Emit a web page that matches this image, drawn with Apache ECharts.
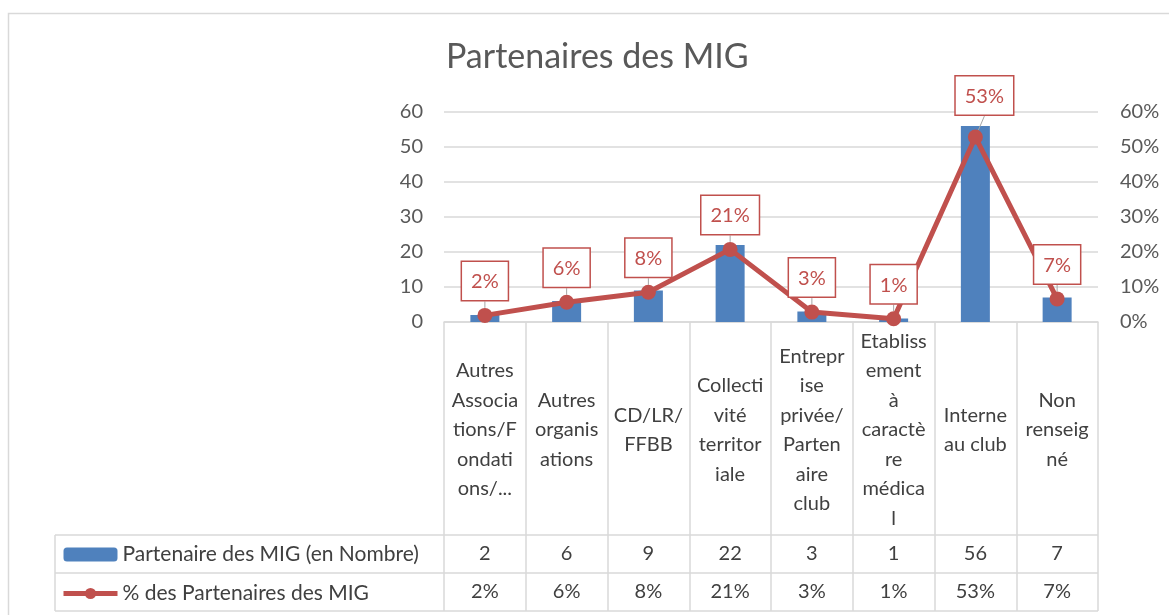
<!DOCTYPE html>
<html>
<head>
<meta charset="utf-8">
<script src="https://cdn.jsdelivr.net/npm/echarts@6/dist/echarts.min.js"></script>
<style>
html,body{margin:0;padding:0;background:#fff;}
#chart{width:1169px;height:615px;}
</style>
</head>
<body>
<div id="chart"></div>
<script>
// ---- Data ----
const title = 'Partenaires des MIG';
const categories = [
  'Autres\nAssocia\ntions/F\nondati\nons/...',
  'Autres\norganis\nations',
  'CD/LR/\nFFBB',
  'Collecti\nvité\nterritor\niale',
  'Entrepr\nise\nprivée/\nParten\naire\nclub',
  'Etabliss\nement\nà\ncaractè\nre\nmédica\nl',
  'Interne\nau club',
  'Non\nrenseig\nné'
];
const countName = 'Partenaire des MIG (en Nombre)';
const pctName = '% des Partenaires des MIG';
const counts = [2, 6, 9, 22, 3, 1, 56, 7];
const pcts = [0.0189, 0.0566, 0.0849, 0.2075, 0.0283, 0.0094, 0.5283, 0.0660];
const leftTicks = {min: 0, max: 60, interval: 10};
const rightTicks = {min: 0, max: 0.6, interval: 0.1};

// ---- Layout / style ----
const FONT = 'Lato';
const GRID = {left: 444, top: 112, width: 654, height: 210};
const AXIS_Y = GRID.top + GRID.height;      // 322
const ROW_LINES = [535, 573, 611];
const ROW1 = 554, ROW2 = 592;               // table row centers
const TABLE_LEFT = 55, TABLE_BOTTOM = 611;
const LINE_GRAY = '#D9D9D9';
const BLUE = '#4F81BD', RED = '#C0504D';
const pct = v => Math.round(v * 100) + '%';

const chart = echarts.init(document.getElementById('chart'));

const tableAxis = (labels, centerY) => ({
  type: 'category',
  gridIndex: 0,
  position: 'bottom',
  data: labels,
  axisLine: {show: false},
  axisTick: {show: false},
  splitLine: {show: false},
  axisLabel: {
    interval: 0, margin: centerY - AXIS_Y, verticalAlign: 'middle',
    fontFamily: FONT, fontSize: 20, color: '#404040'
  }
});

const hLine = y => ({
  type: 'line', silent: true,
  shape: {x1: TABLE_LEFT, y1: y, x2: GRID.left + GRID.width, y2: y},
  style: {stroke: LINE_GRAY, lineWidth: 1.5}
});

const option = {
  backgroundColor: '#fff',
  animation: false,
  title: {
    text: title, left: 441, top: 35,
    textStyle: {fontFamily: FONT, fontSize: 34, fontWeight: 'normal', color: '#595959'}
  },
  legend: {
    orient: 'vertical', left: 61, top: 544, padding: 0,
    itemWidth: 54, itemHeight: 14, itemGap: 18,
    selectedMode: false,
    lineStyle: {width: 5},
    textStyle: {fontFamily: FONT, fontSize: 21, color: '#404040', lineHeight: 20},
    data: [countName, pctName]
  },
  grid: GRID,
  xAxis: [
    {
      type: 'category', data: categories,
      axisLine: {show: true, lineStyle: {color: LINE_GRAY, width: 1.5}},
      axisTick: {show: true, interval: 0, length: TABLE_BOTTOM - AXIS_Y, lineStyle: {color: LINE_GRAY, width: 1.5}},
      axisLabel: {
        interval: 0, margin: 108, verticalAlign: 'middle', align: 'center',
        fontFamily: FONT, fontSize: 20, lineHeight: 29.5, color: '#404040'
      }
    },
    tableAxis(counts.map(String), ROW1),
    tableAxis(pcts.map(pct), ROW2)
  ],
  yAxis: [
    {
      type: 'value', min: leftTicks.min, max: leftTicks.max, interval: leftTicks.interval,
      axisLine: {show: false}, axisTick: {show: false},
      splitLine: {lineStyle: {color: LINE_GRAY, width: 1.5}},
      axisLabel: {margin: 21, fontFamily: FONT, fontSize: 20, color: '#595959'}
    },
    {
      type: 'value', min: rightTicks.min, max: rightTicks.max, interval: rightTicks.interval,
      axisLine: {show: false}, axisTick: {show: false}, splitLine: {show: false},
      axisLabel: {margin: 22, fontFamily: FONT, fontSize: 20, color: '#595959', formatter: pct}
    }
  ],
  series: [
    {
      name: countName, type: 'bar', xAxisIndex: 0, yAxisIndex: 0,
      data: counts, barWidth: 29, itemStyle: {color: BLUE}, z: 2
    },
    {
      name: pctName, type: 'line', xAxisIndex: 0, yAxisIndex: 1,
      data: pcts, z: 3,
      lineStyle: {color: RED, width: 5},
      itemStyle: {color: RED},
      symbol: 'circle', symbolSize: 15,
      label: {
        show: true, position: 'top', distance: 8,
        formatter: p => pct(p.value),
        fontFamily: FONT, fontSize: 20, color: RED,
        backgroundColor: '#fff', borderColor: RED, borderWidth: 1.5,
        padding: [10, 9, 8, 9]
      },
      labelLine: {show: true, lineStyle: {color: '#A6A6A6', width: 1}},
      labelLayout: p => p.dataIndex === 6 ? {dx: 9, dy: -7} : {}
    }
  ],
  graphic: [
    {type: 'rect', silent: true, z: -1,
     shape: {x: 8.5, y: 13.5, width: 1175, height: 620},
     style: {fill: 'none', stroke: LINE_GRAY, lineWidth: 1.5}},
    hLine(ROW_LINES[0]),
    hLine(ROW_LINES[1]),
    hLine(ROW_LINES[2]),
    {type: 'line', silent: true,
     shape: {x1: TABLE_LEFT, y1: ROW_LINES[0], x2: TABLE_LEFT, y2: TABLE_BOTTOM},
     style: {stroke: LINE_GRAY, lineWidth: 1.5}}
  ]
};
chart.setOption(option);
</script>
</body>
</html>
